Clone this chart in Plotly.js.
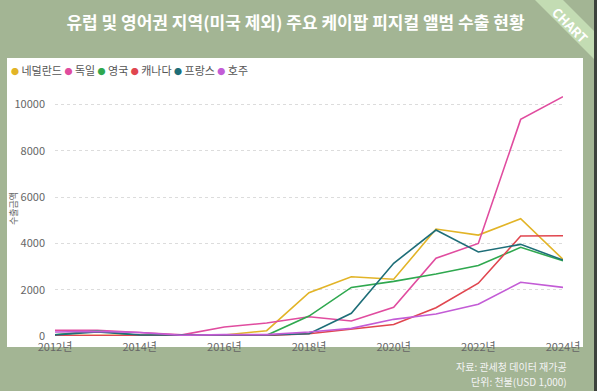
<!DOCTYPE html>
<html><head><meta charset="utf-8">
<script src="https://cdn.plot.ly/plotly-3.0.1.min.js"></script>
<style>html,body{margin:0;padding:0;background:#a3b594;}#c{width:597px;height:391px;}</style>
</head><body><div id="c"></div>
<script>
const years = [2012,2013,2014,2015,2016,2017,2018,2019,2020,2021,2022,2023,2024];
const netherlands = [20,30,20,30,40,230,1870,2560,2450,4620,4360,5070,3310];
const germany = [250,250,150,50,390,560,830,650,1240,3360,4000,9360,10340];
const uk = [50,230,20,30,40,30,860,2100,2360,2680,3050,3830,3250];
const canada = [20,20,10,20,20,20,100,300,500,1220,2280,4320,4330];
const france = [50,170,50,40,60,40,100,980,3140,4580,3630,3960,3280];
const australia = [170,200,150,30,60,60,170,330,720,950,1370,2320,2100];
const names = ['네덜란드','독일','영국','캐나다','프랑스','호주'];
const colors = ['#e2b427','#e04c9f','#2fa84f','#e0464f','#1e6e78','#c35cd6'];
const series = [netherlands, germany, uk, canada, france, australia];
const yTicks = [0,2000,4000,6000,8000,10000];
const xTicks = [2012,2014,2016,2018,2020,2022,2024];
const xTickText = xTicks.map(y => y + '년');

const F = '"Noto Sans CJK KR", "Noto Sans", sans-serif';
const traces = series.map((s,i)=>({
  x: years, y: s, type:'scatter', mode:'lines', name: names[i],
  line:{color:colors[i], width:1.6}, showlegend:false, hoverinfo:'skip'
}));

// pixel helpers for paper coords (plot area x 55..563, y 93..336)
const L=55, R=34, T=93, B=55, W=597-L-R, H=391-T-B;
const px = x => (x-L)/W;
const py = y => (391-B-y)/H;

const legendText = names.map((n,i)=>`<span style="color:${colors[i]};font-size:8px">●</span> ${n}`).join(' ');

const layout = {
  width:597, height:391,
  margin:{l:L, r:R, t:T, b:B},
  paper_bgcolor:'#a3b594', plot_bgcolor:'rgba(0,0,0,0)',
  font:{family:F, color:'#666', size:11},
  showlegend:false,
  title:{text:'유럽 및 영어권 지역(미국 제외) 주요 케이팝 피지컬 앨범 수출 현황',
    font:{family:F, size:17, color:'#ffffff', weight:'bold'}, x:0.495, xanchor:'center', y:0.94, yanchor:'middle'},
  xaxis:{range:[2012,2024], tickvals:xTicks, ticktext:xTickText, showgrid:false, zeroline:false,
    showline:false, ticks:'', tickfont:{size:11, color:'#666'}, ticklabelstandoff:3, fixedrange:true},
  yaxis:{range:[0,10500], tickvals:yTicks, ticktext:yTicks.map(String), showgrid:true, gridcolor:'#dcdcdc', griddash:'dot', gridwidth:1,
    zeroline:false, showline:false, ticks:'', tickfont:{size:11, color:'#666'}, ticklabelstandoff:9, fixedrange:true},
  shapes:[
    {type:'rect', xref:'paper', yref:'paper', x0:px(7), x1:px(583), y0:py(347), y1:py(58),
      fillcolor:'#ffffff', line:{width:0}, layer:'below'},
    {type:'rect', xref:'paper', yref:'paper', x0:px(594), x1:px(597), y0:py(391), y1:py(0),
      fillcolor:'#3c423c', line:{width:0}, layer:'below'},
    {type:'path', xref:'paper', yref:'paper',
      path:`M ${px(535)} ${py(0)} L ${px(563)} ${py(0)} L ${px(594)} ${py(31)} L ${px(594)} ${py(59)} Z`,
      fillcolor:'#c3dcb3', line:{width:0}, layer:'below'}
  ],
  annotations:[
    {xref:'paper', yref:'paper', x:px(9), y:py(70), xanchor:'left', yanchor:'middle', showarrow:false,
      text:legendText, font:{size:11, color:'#555'}},
    {xref:'paper', yref:'paper', x:px(570), y:py(24), xanchor:'center', yanchor:'middle', showarrow:false,
      text:'CHART', textangle:45, font:{size:13, color:'#ffffff', weight:'bold'}},
    {xref:'paper', yref:'paper', x:px(13), y:py(209), xanchor:'center', yanchor:'middle', showarrow:false,
      text:'수출금액', textangle:-90, font:{size:9, color:'#666'}},
    {xref:'paper', yref:'paper', x:px(569), y:py(366), xanchor:'right', yanchor:'middle', showarrow:false,
      text:'자료: 관세청 데이터 재가공', font:{size:10, color:'#f4f4f4'}},
    {xref:'paper', yref:'paper', x:px(569), y:py(381), xanchor:'right', yanchor:'middle', showarrow:false,
      text:'단위: 천불(USD 1,000)', font:{size:10, color:'#f4f4f4'}}
  ]
};
Plotly.newPlot('c', traces, layout, {displayModeBar:false, staticPlot:true});
</script></body></html>
